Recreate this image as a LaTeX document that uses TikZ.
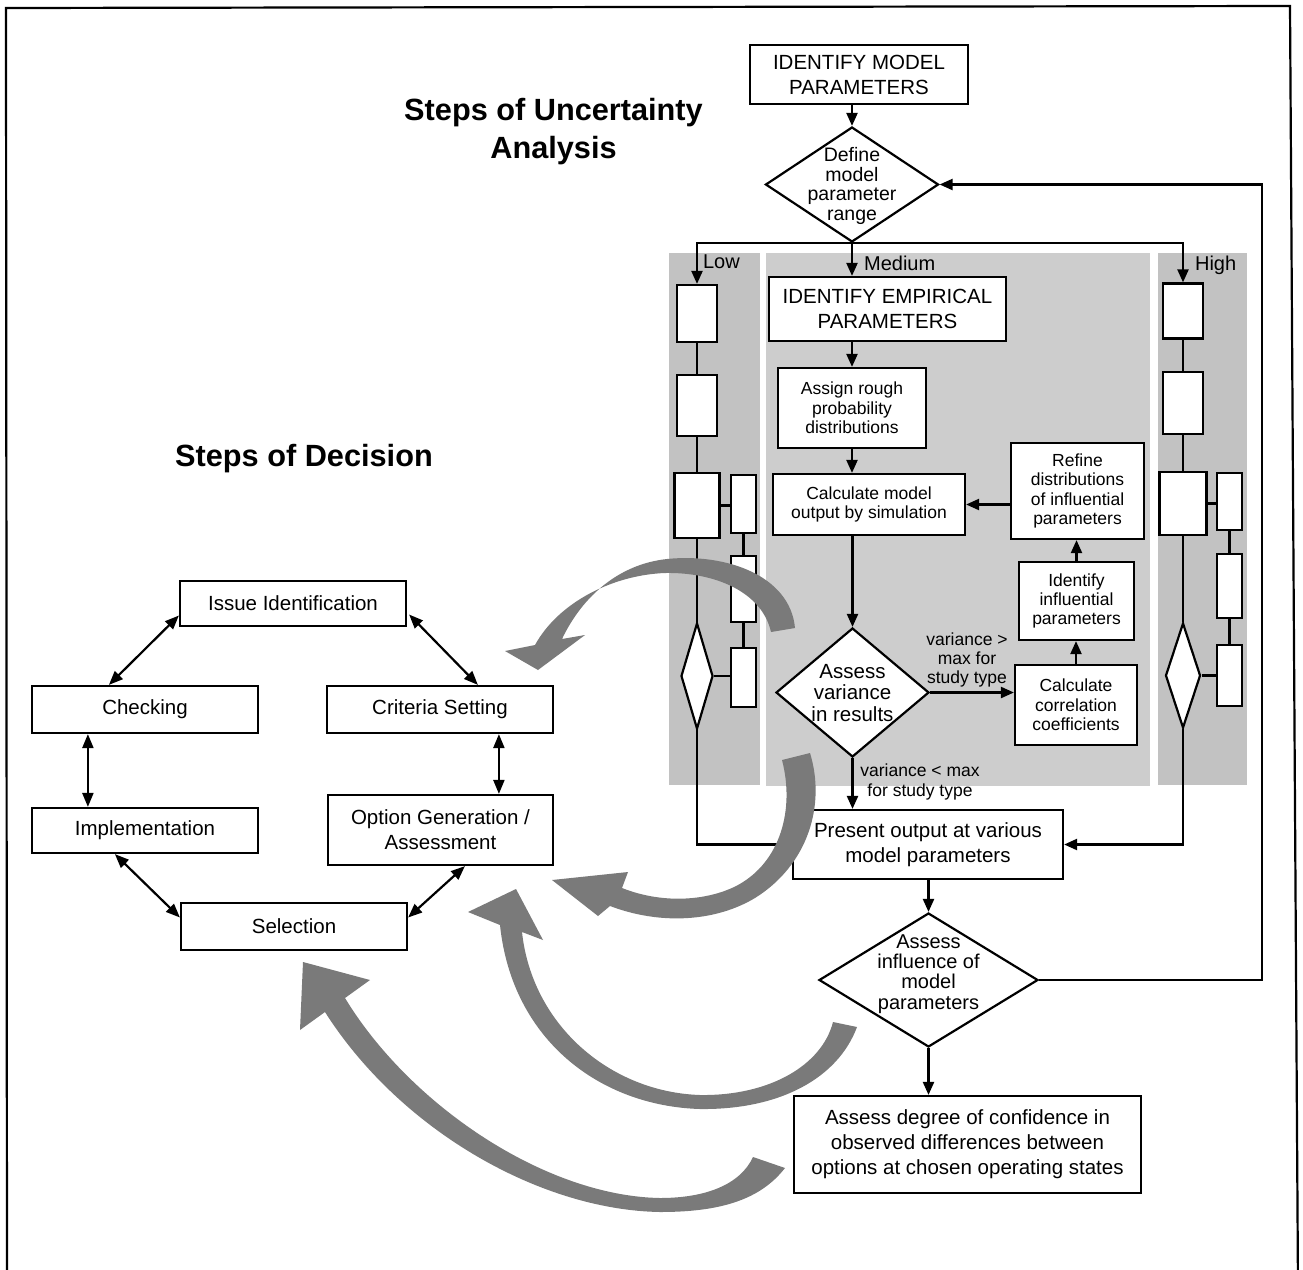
\documentclass[tikz,border=0pt]{standalone}
\usepackage{fontspec}
\setmainfont{Liberation Sans}
\usetikzlibrary{arrows.meta,shapes.geometric,calc}
\definecolor{panelside}{RGB}{194,194,194}
\definecolor{panelmid}{RGB}{205,205,205}
\definecolor{bigarrow}{RGB}{122,122,122}
\begin{document}
\begin{tikzpicture}[x=1pt,y=-1pt,line width=2.2pt,
  box/.style={draw=black,fill=white,line width=2.2pt,inner sep=0pt,align=center,
    font=\fontsize{20.5}{25}\selectfont},
  sbox/.style={box,font=\fontsize{17.5}{19.3}\selectfont},
  blank/.style={draw=black,fill=white,line width=2.2pt,inner sep=0pt},
  dia/.style={diamond,draw=black,fill=white,line width=2.2pt,inner sep=0pt},
  dtext/.style={align=center,inner sep=0pt},
  arr/.style={-{Triangle[length=13pt,width=11pt]}},
  dbl/.style={{Triangle[length=14pt,width=11pt]}-{Triangle[length=14pt,width=11pt]}},
  lbl/.style={inner sep=0pt,font=\fontsize{20}{22}\selectfont},
  vlbl/.style={align=center,inner sep=0pt,font=\fontsize{17.5}{19.3}\selectfont},
  heading/.style={inner sep=0pt,font=\fontsize{30.7}{36}\selectfont\bfseries},
  garrow/.style={fill=bigarrow,draw=none},
]
\useasboundingbox (0,0) rectangle (1303,1269);
\fill[white] (0,0) rectangle (1303,1269);

% outer frame
\draw[line width=2.2pt] (7,1290) -- (6,8) -- (1290,6) -- (1298,1290);

% headings
\node[heading,anchor=base] (t1) at (553.5,120) {Steps of Uncertainty};
\node[heading,anchor=base] (t2) at (553.5,158) {Analysis};
\node[heading,anchor=base] (t3) at (304,466) {Steps of Decision};

% shaded lanes
\fill[panelside] (669,253) rectangle (760,785);
\fill[panelmid] (766,253) rectangle (1150,786);
\fill[panelside] (1158,253) rectangle (1247,785);

% ---------- uncertainty analysis ----------
\node[box,minimum width=218pt,minimum height=59pt] (imp) at (859,74.5) {IDENTIFY MODEL\\PARAMETERS};
\node[dia,minimum width=173pt,minimum height=115pt] (dmp) at (852,184.5) {};
\node[dtext,font=\fontsize{19.5}{19.7}\selectfont] (dmpt) at (852,186) {Define\\model\\parameter\\range};

\node[box,minimum width=237pt,minimum height=64pt] (iep) at (887.5,309) {IDENTIFY EMPIRICAL\\PARAMETERS};
\node[sbox,minimum width=148pt,minimum height=80pt] (arp) at (852,408) {Assign rough\\probability\\distributions};
\node[sbox,minimum width=192pt,minimum height=61pt] (cmo) at (869,504.5) {Calculate model\\output by simulation};
\node[sbox,minimum width=133pt,minimum height=96pt] (rdi) at (1077.5,491) {Refine\\distributions\\of influential\\parameters};
\node[sbox,minimum width=115pt,minimum height=78pt] (iip) at (1076.5,601) {Identify\\influential\\parameters};
\node[sbox,minimum width=122pt,minimum height=80pt] (ccc) at (1076,705) {Calculate\\correlation\\coefficients};
\node[dia,minimum width=153pt,minimum height=129pt] (avr) at (852.5,692.5) {};
\node[dtext,font=\fontsize{20.5}{21.7}\selectfont] (avrt) at (852.5,693) {Assess\\variance\\in results};
\node[box,minimum width=270pt,minimum height=69pt] (pom) at (928,844.5) {Present output at various\\model parameters};
\node[dia,minimum width=219pt,minimum height=134pt] (aim) at (928.5,980) {};
\node[dtext,font=\fontsize{20}{20.3}\selectfont] (aimt) at (928.5,974) {Assess\\influence of\\model\\parameters};
\node[box,minimum width=347pt,minimum height=97pt] (adc) at (967.5,1144.5) {Assess degree of confidence in\\observed differences between\\options at chosen operating states};

% low lane
\node[blank,minimum width=40pt,minimum height=57pt] (L1) at (697,313.5) {};
\node[blank,minimum width=40pt,minimum height=61pt] (L2) at (697,405.5) {};
\node[blank,minimum width=45pt,minimum height=65pt] (L3) at (697,505.5) {};
\node[blank,minimum width=25pt,minimum height=58pt] (La) at (743.5,504) {};
\node[blank,minimum width=25pt,minimum height=66pt] (Lb) at (743.5,589) {};
\node[blank,minimum width=25pt,minimum height=59pt] (Lc) at (743.5,677.5) {};
\node[dia,minimum width=32pt,minimum height=106pt] (Ld) at (697,676) {};
% high lane
\node[blank,minimum width=40pt,minimum height=55pt] (H1) at (1183,311) {};
\node[blank,minimum width=40pt,minimum height=62pt] (H2) at (1183,403) {};
\node[blank,minimum width=47pt,minimum height=63pt] (H3) at (1183,503.5) {};
\node[blank,minimum width=25pt,minimum height=57pt] (Ha) at (1229.5,501.5) {};
\node[blank,minimum width=25pt,minimum height=64pt] (Hb) at (1229.5,586) {};
\node[blank,minimum width=25pt,minimum height=61pt] (Hc) at (1229.5,675.5) {};
\node[dia,minimum width=35pt,minimum height=105pt] (Hd) at (1183,675.5) {};

% connectors
\draw[arr] (imp.south -| dmp.north) -- (dmp.north);
\draw[arr] (dmp.south) -| (L1.north);
\draw[arr] (dmp.south) -| (H1.north);
\draw[arr] (dmp.south) -- (dmp.south |- iep.north);
\draw[arr] (iep.south -| arp.north) -- (arp.north);
\draw[arr] (arp.south) -- (arp.south |- cmo.north);
\draw[arr] (cmo.south -| avr.north) -- (avr.north);
\draw[arr] (avr.east) -- (avr.east -| ccc.west);
\draw[arr] (ccc.north) -- (ccc.north |- iip.south);
\draw[arr] (iip.north) -- (iip.north |- rdi.south);
\draw[arr] (rdi.west |- cmo.east) -- (cmo.east);
\draw[arr] (avr.south) -- (avr.south |- pom.north);
\draw[arr] (pom.south -| aim.north) -- (aim.north);
\draw[arr] (aim.south) -- (aim.south |- adc.north);
\coordinate (fb) at (1262,980);
\draw[arr] (aim.east) -- (aim.east -| fb) |- (dmp.east);

\draw (L1) -- (L2);
\draw (L2) -- (L3);
\draw (L3) -- (Ld);
\draw (L3.east) -- (L3.east -| La.west);
\draw (La) -- (Lb);
\draw (Lb) -- (Lc);
\draw (Ld.east) -- (Ld.east -| Lc.west);
\draw[arr] (Ld.south) |- (pom.west);

\draw (H1) -- (H2);
\draw (H2) -- (H3);
\draw (H3) -- (Hd);
\draw (H3.east) -- (H3.east -| Ha.west);
\draw (Ha) -- (Hb);
\draw (Hb) -- (Hc);
\draw (Hd.east) -- (Hd.east -| Hc.west);
\draw[arr] (Hd.south) |- (pom.east);

% labels
\node[lbl,anchor=base west] (lowl) at (702,268) {Low};
\node[lbl,anchor=base west] (medl) at (863,270) {Medium};
\node[lbl,anchor=base west] (highl) at (1194,270) {High};
\node[vlbl] (vgt) at (967,660) {variance >\\max for\\study type};
\node[vlbl] (vlt) at (920,782) {variance < max\\for study type};

% ---------- decision cycle ----------
\node[box,minimum width=226pt,minimum height=45pt] (iss) at (293,603.5) {Issue Identification};
\node[box,minimum width=226pt,minimum height=47pt] (chk) at (145,709.5) {Checking};
\node[box,minimum width=226pt,minimum height=47pt] (crt) at (440,709.5) {Criteria Setting};
\node[box,minimum width=226pt,minimum height=45pt] (impl) at (145,830.5) {Implementation};
\node[box,minimum width=225pt,minimum height=70pt] (opt) at (440.5,830) {Option Generation /\\Assessment};
\node[box,minimum width=226pt,minimum height=47pt] (sel) at (294,926.5) {Selection};

\draw[dbl] ($(iss.west)+(0,12)$) -- ($(chk.north west)+(78,0)$);
\draw[dbl] ($(iss.east)+(2,11)$) -- ($(crt.north west)+(152,0)$);
\draw[dbl] ($(chk.south west)+(57,0)$) -- ($(impl.north west)+(57,0)$);
\draw[dbl] ($(crt.south west)+(173,0)$) -- ($(opt.north west)+(172,0)$);
\draw[dbl] ($(impl.south west)+(84,0)$) -- ($(sel.west)+(0,-9)$);
\draw[dbl] ($(opt.south west)+(138,0)$) -- ($(sel.east)+(0,-9)$);

% ---------- broad grey arrows linking the two processes ----------
\fill[garrow] (795,628) .. controls (790,575) and (725,553) .. (667,559)
  .. controls (620,564) and (583,595) .. (562,639) -- (585,635) -- (538,670)
  -- (505,651) -- (535,645) .. controls (558,603) and (612,575) .. (665,573)
  .. controls (715,572) and (762,592) .. (771,632) -- cycle;
\fill[garrow] (810,753) .. controls (826,805) and (808,865) .. (755,898)
  .. controls (715,922) and (660,925) .. (610,906) -- (598,916) -- (552,880)
  -- (628,872) -- (622,888) .. controls (665,905) and (710,900) .. (738,885)
  .. controls (780,862) and (795,810) .. (782,760) -- cycle;
\fill[garrow] (857,1027) .. controls (838,1078) and (780,1110) .. (700,1109)
  .. controls (600,1106) and (512,1040) .. (500,925) -- (468,912) -- (516,889)
  -- (543,940) -- (522,932) .. controls (532,1025) and (610,1092) .. (700,1095)
  .. controls (770,1096) and (822,1065) .. (833,1022) -- cycle;
\fill[garrow] (785,1168) .. controls (760,1200) and (720,1212) .. (660,1212)
  .. controls (540,1210) and (400,1130) .. (325,1012) -- (300,1030) -- (303,962)
  -- (370,980) -- (345,998) .. controls (410,1105) and (545,1196) .. (660,1198)
  .. controls (705,1198) and (740,1185) .. (753,1157) -- cycle;
\end{tikzpicture}
\end{document}
